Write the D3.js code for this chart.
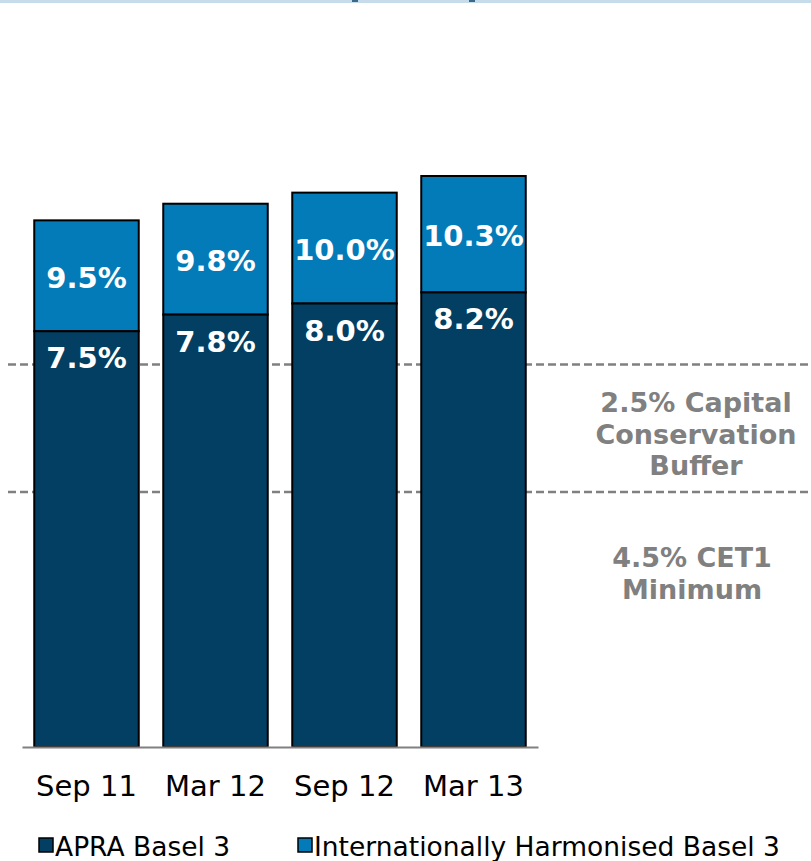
<!DOCTYPE html>
<html>
<head>
<meta charset="utf-8">
<script src="https://cdn.jsdelivr.net/npm/d3@7"></script>
<style>
  body { margin: 0; background: #fff; }
  svg { display: block; font-family: "DejaVu Sans", Verdana, sans-serif; }
</style>
</head>
<body>
<div id="chart"></div>
<script>
// data
const periods = ["Sep 11", "Mar 12", "Sep 12", "Mar 13"]
const apra = [7.5, 7.8, 8.0, 8.2]
const intl = [9.5, 9.8, 10.0, 10.3]
const thresholdLevels = [6.9, 4.6]
const bufferLabel = ["2.5% Capital", "Conservation", "Buffer"]
const minimumLabel = ["4.5% CET1", "Minimum"]
const legendLabels = ["APRA Basel 3", "Internationally Harmonised Basel 3"]

const svgWidth = 811
const svgHeight = 861

const darkBlue = "#023f63"
const lightBlue = "#037bb9"
const grey = "#808080"

const svg = d3.select("#chart")
    .append("svg")
    .attr("width", svgWidth)
    .attr("height", svgHeight)

// thin band at the very top (cropped header)
svg.append("rect")
    .attr("x", 0).attr("y", 0)
    .attr("width", svgWidth).attr("height", 3)
    .attr("fill", "#c6dcea")

// bits of the cropped title
svg.append("g")
    .selectAll("rect")
    .data([352, 469])
    .join("rect")
    .attr("x", d => d).attr("y", 0)
    .attr("width", 6).attr("height", 2)
    .attr("fill", "#3a6a8a")

// scales
const x = d3.scaleBand()
    .domain(periods)
    .range([22, 538])
    .paddingInner(0.19)
    .paddingOuter(0.095)

const y = d3.scaleLinear()
    .domain([0, 10.3])
    .range([747, 176])

// dashed regulatory lines (behind bars)
svg.append("g")
    .selectAll("line")
    .data(thresholdLevels)
    .join("line")
    .attr("x1", 8)
    .attr("x2", svgWidth)
    .attr("y1", d => y(d))
    .attr("y2", d => y(d))
    .attr("stroke", grey)
    .attr("stroke-width", 2.5)
    .attr("stroke-dasharray", "8 4")

// stacked bars
const rows = periods.map((p, i) => ({ period: p, apra: apra[i], intl: intl[i] }))

const bars = svg.append("g")

bars.selectAll(".top")
    .data(rows)
    .join("rect")
    .attr("class", "top")
    .attr("x", d => x(d.period))
    .attr("width", x.bandwidth())
    .attr("y", d => y(d.intl))
    .attr("height", d => y(d.apra) - y(d.intl))
    .attr("fill", lightBlue)
    .attr("stroke", "#000")
    .attr("stroke-width", 2)

bars.selectAll(".bottom")
    .data(rows)
    .join("rect")
    .attr("class", "bottom")
    .attr("x", d => x(d.period))
    .attr("width", x.bandwidth())
    .attr("y", d => y(d.apra))
    .attr("height", d => y(0) - y(d.apra))
    .attr("fill", darkBlue)
    .attr("stroke", "#000")
    .attr("stroke-width", 2)

// value labels
bars.selectAll(".intl-label")
    .data(rows)
    .join("text")
    .attr("x", d => x(d.period) + x.bandwidth() / 2)
    .attr("y", d => (y(d.intl) + y(d.apra)) / 2 + 12)
    .attr("text-anchor", "middle")
    .attr("fill", "#fff")
    .attr("font-weight", "bold")
    .attr("font-size", 29)
    .text(d => d.intl.toFixed(1) + "%")

bars.selectAll(".apra-label")
    .data(rows)
    .join("text")
    .attr("x", d => x(d.period) + x.bandwidth() / 2)
    .attr("y", d => y(d.apra) + 37)
    .attr("text-anchor", "middle")
    .attr("fill", "#fff")
    .attr("font-weight", "bold")
    .attr("font-size", 29)
    .text(d => d.apra.toFixed(1) + "%")

// x axis
const xAxis = d3.axisBottom(x).tickSize(0).tickSizeOuter(0)

const gx = svg.append("g")
    .attr("transform", `translate(0,${y(0)})`)
    .call(xAxis)

gx.select(".domain")
    .attr("stroke", grey)
    .attr("stroke-width", 2)

gx.selectAll("text")
    .attr("y", 49)
    .attr("dy", 0)
    .attr("fill", "#000")
    .style("font-size", "29px")
    .style("font-family", "DejaVu Sans, Verdana, sans-serif")

// annotations on the right
svg.append("g")
    .selectAll("text")
    .data(bufferLabel)
    .join("text")
    .attr("x", 696)
    .attr("y", (d, i) => 412 + i * 31.5)
    .attr("text-anchor", "middle")
    .attr("fill", grey)
    .attr("font-weight", "bold")
    .attr("font-size", 27)
    .text(d => d)

svg.append("g")
    .selectAll("text")
    .data(minimumLabel)
    .join("text")
    .attr("x", 692)
    .attr("y", (d, i) => 567 + i * 31.5)
    .attr("text-anchor", "middle")
    .attr("fill", grey)
    .attr("font-weight", "bold")
    .attr("font-size", 27)
    .text(d => d)

// legend
const legendX = [38, 297]
const legend = svg.append("g")
    .selectAll("g")
    .data(legendLabels)
    .join("g")
    .attr("transform", (d, i) => `translate(${legendX[i]},0)`)

legend.append("rect")
    .attr("x", 1)
    .attr("y", 838)
    .attr("width", 14)
    .attr("height", 14)
    .attr("fill", (d, i) => i == 0 ? darkBlue : lightBlue)
    .attr("stroke", "#000")
    .attr("stroke-width", 1.5)

legend.append("text")
    .attr("x", 17)
    .attr("y", 856)
    .attr("fill", "#000")
    .attr("font-size", 26.5)
    .text(d => d)
</script>
</body>
</html>
